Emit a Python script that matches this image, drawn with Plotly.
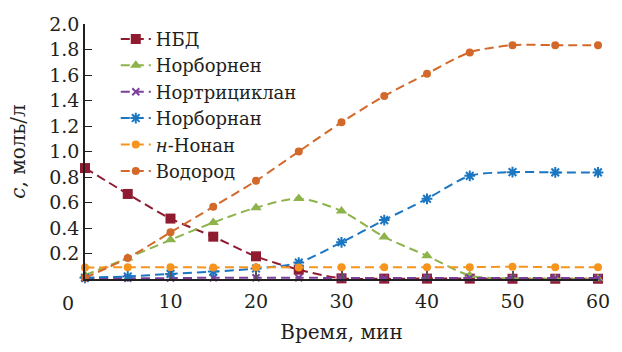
import plotly.graph_objects as go

time_min = [0, 5, 10, 15, 20, 25, 30, 35, 40, 45, 50, 55, 60]
nbd = [0.87, 0.667, 0.474, 0.332, 0.178, 0.073, 0.005, 0.003, 0.003, 0.003, 0.002, 0.002, 0.002]
norbornene = [0.03, 0.165, 0.307, 0.443, 0.559, 0.631, 0.533, 0.330, 0.182, 0.028, 0.004, 0.002, 0.002]
nortricyclane = [0.005, 0.006, 0.007, 0.01, 0.01, 0.01, 0.008, 0.008, 0.008, 0.008, 0.008, 0.008, 0.008]
norbornane = [0.01, 0.02, 0.04, 0.058, 0.082, 0.129, 0.288, 0.462, 0.629, 0.809, 0.838, 0.836, 0.836]
nonane = [0.09, 0.092, 0.092, 0.091, 0.092, 0.091, 0.093, 0.093, 0.093, 0.093, 0.096, 0.093, 0.093]
hydrogen = [0.01, 0.165, 0.366, 0.567, 0.770, 1.0, 1.229, 1.435, 1.610, 1.777, 1.834, 1.834, 1.834]

series_names = ["НБД", "Норборнен", "Нортрициклан", "Норборнан", "<i>н</i>-Нонан", "Водород"]
series_values = [nbd, norbornene, nortricyclane, norbornane, nonane, hydrogen]
colors = ["#8E1B30", "#8DB34A", "#7B3F9A", "#1B76C2", "#F7941D", "#D2692A"]
symbols = ["square", "triangle-up", "x-thin-open", "asterisk-open", "circle", "circle"]
sizes = [10, 10, 7, 9, 8, 8]

x_ticks = [10, 20, 30, 40, 50, 60]
y_ticks = [0.2, 0.4, 0.6, 0.8, 1.0, 1.2, 1.4, 1.6, 1.8, 2.0]

FONT = "'DejaVu Serif', serif"

fig = go.Figure()
for name, vals, col, sym, sz in zip(series_names, series_values, colors, symbols, sizes):
    open_sym = sym.endswith("open")
    fig.add_trace(go.Scatter(
        x=time_min, y=vals, name=name, mode="lines+markers",
        line=dict(color=col, width=2, dash="9px,5px", shape="spline", smoothing=0.8),
        marker=dict(symbol=sym, size=sz, color=col,
                    line=dict(color=col, width=2 if open_sym else 0)),
        cliponaxis=False,
    ))

fig.update_layout(
    width=622, height=352,
    margin=dict(l=85, r=15, t=24, b=68),
    paper_bgcolor="white", plot_bgcolor="white",
    font=dict(family=FONT, size=19, color="#231F20"),
    showlegend=True,
    legend=dict(x=0.06, y=1.013, xanchor="left", yanchor="top",
                bgcolor="rgba(0,0,0,0)", itemwidth=30,
                font=dict(family=FONT, size=18), tracegroupgap=0),
    xaxis=dict(range=[0, 60], tickvals=x_ticks, ticktext=[str(v) for v in x_ticks],
               ticks="inside", ticklen=8, tickcolor="#555555", tickwidth=1.5,
               showline=True, linecolor="#231F20", linewidth=1.5,
               showgrid=False, zeroline=False, ticklabelstandoff=4,
               tickfont=dict(family=FONT, size=19),
               title=dict(text="Время, мин", font=dict(family=FONT, size=20), standoff=14)),
    yaxis=dict(range=[0, 2.0], tickvals=y_ticks, tickformat=".1f",
               ticks="inside", ticklen=7, tickcolor="#231F20", tickwidth=1.2,
               showline=True, linecolor="#231F20", linewidth=1.5,
               showgrid=False, zeroline=False,
               tickfont=dict(family=FONT, size=19),
               title=dict(text="<i>c</i>, моль/л", font=dict(family=FONT, size=20), standoff=18)),
)

fig.add_annotation(x=0, y=0, xref="x", yref="y", text="0", showarrow=False,
                   xshift=-17, yshift=-24, font=dict(family=FONT, size=19, color="#231F20"))

fig.write_html("out.html", config={"displayModeBar": False},
               post_script="document.body.style.margin='0';")
